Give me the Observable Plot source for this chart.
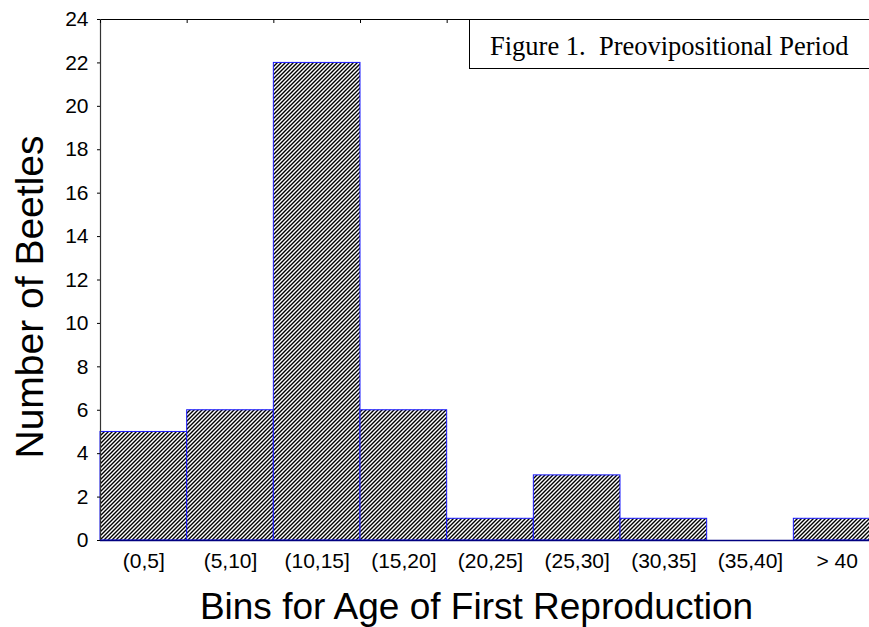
<!DOCTYPE html>
<html>
<head>
<meta charset="utf-8">
<script src="https://cdn.jsdelivr.net/npm/d3@7"></script>
<script src="https://cdn.jsdelivr.net/npm/@observablehq/plot@0.6"></script>
<style>
  html, body { margin: 0; padding: 0; background: white; overflow: hidden; }
  #wrap { position: relative; width: 869px; height: 627px; }
  #figtitle {
    position: absolute; left: 469px; top: 19px; width: 440px; height: 50px;
    box-sizing: border-box; border: 1.5px solid black; background: white;
    font-family: "Liberation Serif", "Times New Roman", serif; font-size: 26.5px;
    line-height: 26px; padding-top: 12.5px; padding-left: 20px; white-space: pre; color: black;
  }
</style>
</head>
<body>
<div id="wrap"></div>
<script>
// ---- data ----
const binLabels = ["(0,5]", "(5,10]", "(10,15]", "(15,20]", "(20,25]", "(25,30]", "(30,35]", "(35,40]", "> 40"];
const binStarts = [0, 5, 10, 15, 20, 25, 30, 35, 40];
const binEnds   = [5, 10, 15, 20, 25, 30, 35, 40, 45];
const counts    = [5, 6, 22, 6, 1, 3, 1, 0, 1];
const yTicks    = [0, 2, 4, 6, 8, 10, 12, 14, 16, 18, 20, 22, 24];
const binEdges  = [0, 5, 10, 15, 20, 25, 30, 35, 40, 45];
const yTitle = "Number of Beetles";
const xTitle = "Bins for Age of First Reproduction";
const figTitle = "Figure 1.\u00a0 Preovipositional Period";

const data = binLabels.map((label, i) => ({label, start: binStarts[i], end: binEnds[i], count: counts[i]}));
const centers = data.map(d => (d.start + d.end) / 2);
const labelAt = new Map(centers.map((c, i) => [c, binLabels[i]]));

const chart = Plot.plot({
  width: 869,
  height: 627,
  marginLeft: 100,
  marginTop: 19,
  marginBottom: 87,
  marginRight: 0,
  style: {fontFamily: "'Liberation Sans', Arial, sans-serif", fontSize: "21px", color: "black", background: "white", overflow: "visible"},
  x: {type: "linear", domain: [0, 45], range: [100, 880]},
  y: {domain: [0, 24], range: [540, 19]},
  marks: [
    Plot.rect(data.filter(d => d.count > 0), {x1: "start", x2: "end", y1: 0, y2: "count", fill: "url(#hatch)", stroke: "#1a1aff", strokeWidth: 1}),
    Plot.ruleY([24], {stroke: "black", strokeWidth: 1.2}),
    Plot.ruleX([0], {stroke: "#333", strokeWidth: 1.2}),
    Plot.ruleY([0], {stroke: "#000080", strokeWidth: 1.6}),
    Plot.axisY({ticks: yTicks, tickSize: 3, tickPadding: 9, fontSize: 21, label: null, tickFormat: d => String(d)}),
    Plot.axisX({anchor: "top", ticks: binEdges, tickSize: -3, tickFormat: () => "", label: null}),
    Plot.axisX({anchor: "bottom", ticks: centers, tickSize: 0, tickPadding: 13, fontSize: 21, label: null, tickFormat: d => labelAt.get(d)}),
    Plot.text([yTitle], {frameAnchor: "left", text: d => d, rotate: -90, textAnchor: "middle", lineAnchor: "bottom", dx: -58, dy: 17, fontSize: 39}),
    Plot.text([xTitle], {frameAnchor: "bottom", text: d => d, textAnchor: "middle", lineAnchor: "bottom", dx: -8.5, dy: 78, fontSize: 37})
  ]
});

d3.select(chart).insert("defs", ":first-child").html(
  `<pattern id="hatch" patternUnits="userSpaceOnUse" width="4" height="4">
     <rect width="4" height="4" fill="white"/>
     <path d="M-1,1 l2,-2 M0,4 l4,-4 M3,5 l2,-2" stroke="black" stroke-width="1.4"/>
   </pattern>`
);

const wrap = document.getElementById("wrap");
wrap.appendChild(chart);
const box = document.createElement("div");
box.id = "figtitle";
box.textContent = figTitle;
wrap.appendChild(box);
</script>
</body>
</html>
